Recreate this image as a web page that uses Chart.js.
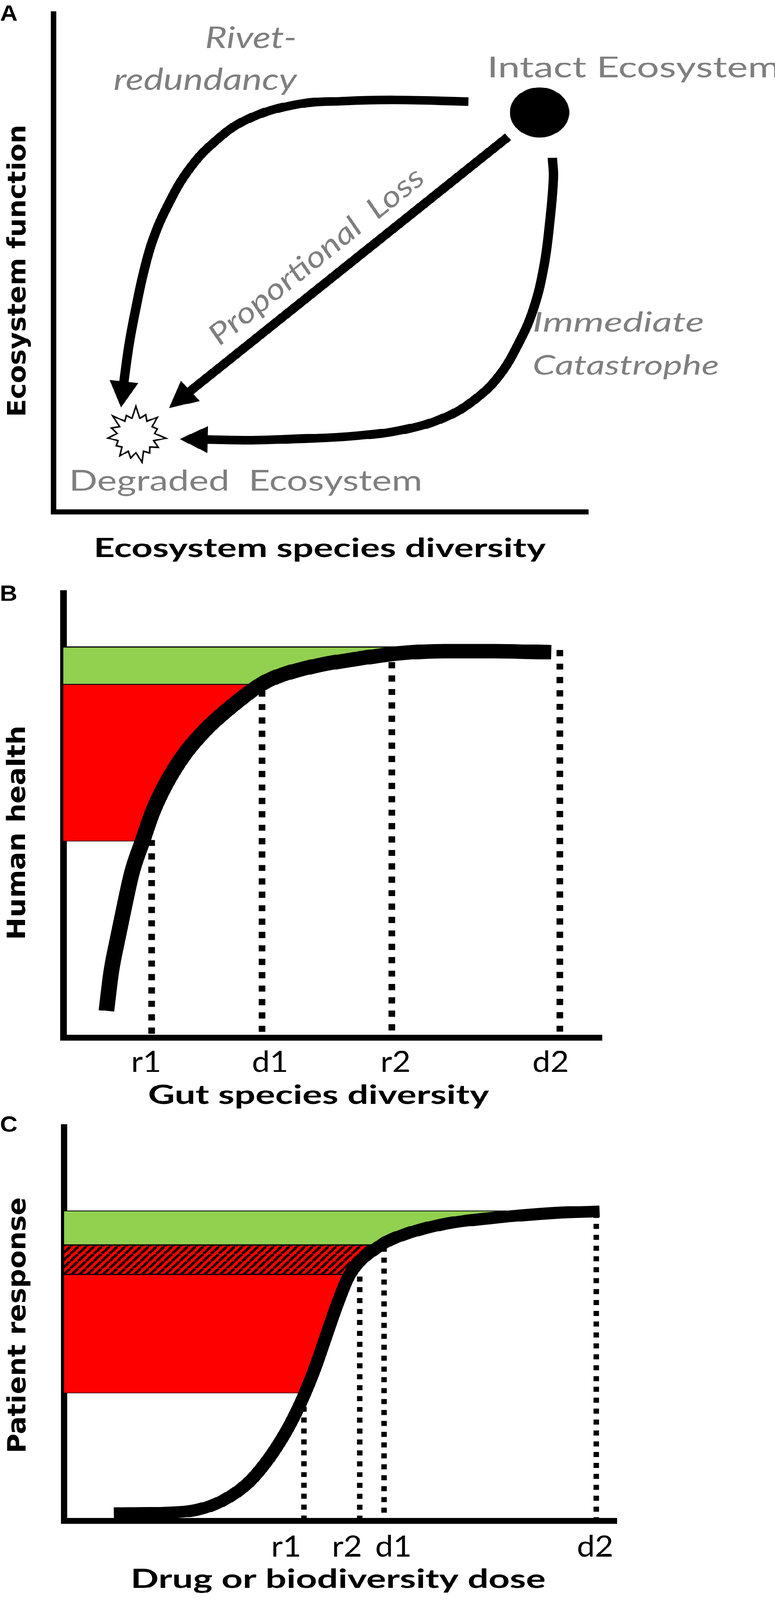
<!DOCTYPE html>
<html lang="en">
<head>
  <meta charset="UTF-8" />
  <title>Diversity loss, gut diversity and dose response</title>
  <script src="https://cdn.jsdelivr.net/npm/chart.js@4.4.1/dist/chart.umd.min.js"></script>
  <style>
    html, body { margin: 0; padding: 0; background: #ffffff; overflow: hidden; }
    #page { width: 1983px; height: 4415px; position: relative; transform-origin: 0 0; }
    canvas { position: absolute; left: 0; }
    #panelA { top: 0; }
    #panelB { top: 1540px; }
    #panelC { top: 3040px; }
  </style>
</head>
<body>
<div id="page">
  <canvas id="panelA" width="1983" height="1600"></canvas>
  <canvas id="panelB" width="1983" height="1560"></canvas>
  <canvas id="panelC" width="1983" height="1375"></canvas>
</div>

  <script>
    // ---------- Panel A : three routes from intact to degraded (diversity %, function %)
    const rivetX = [77.6, 64.0, 54.7, 45.5, 36.2, 29.8, 25.1, 21.4, 18.6, 16.8, 15.4, 14.2, 13.3, 12.9];
    const rivetY = [82.4, 82.7, 82.5, 81.8, 78.8, 74.0, 68.4, 61.6, 54.7, 47.9, 40.9, 34.1, 27.3, 23.6];
    const propX = [85.0, 23.6];
    const propY = [75.3, 22.6];
    const catX = [93.3, 93.5, 92.8, 91.7, 89.8, 87.1, 83.3, 78.7, 73.2, 65.8, 56.6, 45.5, 36.2, 26.2];
    const catY = [71.1, 67.1, 58.1, 49.2, 40.9, 34.1, 27.3, 22.5, 19.0, 16.6, 15.3, 14.7, 14.4, 14.6];
    const intactPt = [90.9, 80.2];
    const degradedPt = [15.4, 15.4];

    // ---------- Panel B : human health vs gut species diversity
    const gutX = [8.0, 8.9, 10.1, 11.4, 12.8, 14.7, 16.6, 19.1, 22.4, 26.5, 31.2, 36.7, 39.6, 47.0, 54.4, 61.7, 70.8, 80.0, 90.6];
    const gutY = [6.0, 14.8, 22.3, 29.9, 37.4, 44.2, 50.8, 57.2, 63.6, 69.4, 74.5, 79.5, 81.2, 83.7, 85.2, 86.4, 87.0, 87.0, 86.7];
    const gutLevels = [87.9, 79.5, 44.2];   // green top, health at d1, health at r1
    const gutGreenEnd = 61.7;
    const gutDropX = [16.4, 36.9, 61.0, 92.2];
    const gutDropTop = [44.5, 78.1, 84.5, 87.2];
    const gutTickX = [15.4, 38.4, 61.7, 90.5];
    const gutTickLabels = ['r1', 'd1', 'r2', 'd2'];

    // ---------- Panel C : patient response vs drug or biodiversity dose
    const doseX = [9.0, 17.9, 24.2, 28.6, 33.1, 36.7, 39.8, 41.9, 43.6, 45.4, 47.5, 49.4, 51.7, 57.4, 60.1, 68.1, 78.1, 88.9, 96.9];
    const doseY = [1.9, 2.1, 2.9, 5.1, 9.4, 15.2, 21.8, 27.3, 32.5, 38.8, 47.3, 54.9, 62.6, 70.1, 72.0, 75.2, 77.0, 78.2, 78.6];
    const doseLevels = [78.7, 70.1, 62.6, 32.5];   // green top, d1, r2, r1
    const doseGreenEnd = 88.9;
    const doseDropX = [43.4, 53.5, 57.9, 96.3];
    const doseDropTop = [29.0, 62.1, 69.6, 78.2];
    const doseTickX = [40.2, 51.2, 59.6, 96.1];
    const doseTickLabels = ['r1', 'r2', 'd1', 'd2'];

    const GREY = '#7f7f7f';
    const GREEN = '#92d050';
    const RED = '#ff0000';

    const pts = (xs, ys) => xs.map((x, i) => ({x, y: ys[i]}));

    // little bitmaps used as point styles
    function headImg(w, h) {
      const c = document.createElement('canvas');
      c.width = w; c.height = h;
      const g = c.getContext('2d');
      g.fillStyle = '#000';
      g.beginPath();
      g.moveTo(w / 2, 0);
      g.lineTo(w, h);
      g.lineTo(0, h);
      g.closePath();
      g.fill();
      return c;
    }
    function ellipseImg(w, h) {
      const c = document.createElement('canvas');
      c.width = w; c.height = h;
      const g = c.getContext('2d');
      g.fillStyle = '#000';
      g.beginPath();
      g.ellipse(w / 2, h / 2, w / 2, h / 2, 0, 0, Math.PI * 2);
      g.fill();
      return c;
    }
    function starImg(radii, inner) {
      const size = 2 * Math.max(...radii) + 12;
      const c = document.createElement('canvas');
      c.width = c.height = size;
      const g = c.getContext('2d');
      const m = size / 2, n = radii.length;
      g.beginPath();
      for (let i = 0; i < n; i++) {
        const a1 = i / n * Math.PI * 2 - Math.PI / 2;
        const a2 = (i + 0.5) / n * Math.PI * 2 - Math.PI / 2;
        g.lineTo(m + radii[i] * Math.cos(a1), m + radii[i] * Math.sin(a1));
        g.lineTo(m + inner * Math.cos(a2), m + inner * Math.sin(a2));
      }
      g.closePath();
      g.fillStyle = '#fff';
      g.fill();
      g.lineWidth = 4;
      g.strokeStyle = '#000';
      g.stroke();
      return c;
    }
    function hatchPattern(ctx) {
      const s = 20;
      const c = document.createElement('canvas');
      c.width = c.height = s;
      const g = c.getContext('2d');
      g.fillStyle = RED;
      g.fillRect(0, 0, s, s);
      g.strokeStyle = '#1a0000';
      g.lineWidth = 7;
      g.beginPath();
      for (const k of [-1, 0, 1]) { g.moveTo(k * s, s); g.lineTo(k * s + s, 0); }
      g.stroke();
      return ctx.createPattern(c, 'repeat');
    }

    const HEAD = headImg(74, 72);
    const DOT = ellipseImg(152, 138);
    const STAR = starImg([80, 62, 74, 58, 78, 66, 60, 76, 64, 70, 58, 72, 66, 80, 60], 48);

    function headAngle(c) {
      const d = c.dataset.data, i = d.length - 1;
      const sx = c.chart.scales.x, sy = c.chart.scales.y;
      const dx = sx.getPixelForValue(d[i].x) - sx.getPixelForValue(d[i - 1].x);
      const dy = sy.getPixelForValue(d[i].y) - sy.getPixelForValue(d[i - 1].y);
      return Math.atan2(dx, -dy) * 180 / Math.PI;
    }

    function arrow(xs, ys) {
      return {
        data: pts(xs, ys),
        borderColor: '#000', borderWidth: 24, tension: 0.4,
        pointRadius: c => c.dataIndex === xs.length - 1 ? 2 : 0,
        pointStyle: HEAD, pointRotation: headAngle, pointBorderWidth: 0,
        clip: false, order: 0
      };
    }
    function marker(p, img) {
      return {data: [{x: p[0], y: p[1]}], showLine: false, pointStyle: img, pointRadius: 2, pointBorderWidth: 0, clip: false, order: 1};
    }
    function curve(xs, ys, w) {
      return {data: pts(xs, ys), borderColor: '#000', borderWidth: w, cubicInterpolationMode: 'monotone', pointRadius: 0, clip: false, order: 0};
    }
    function band(poly, bg, line, lw) {
      return {data: poly, fill: 'shape', backgroundColor: bg, borderColor: line, borderWidth: lw, tension: 0, pointRadius: 0, clip: false, order: 2};
    }
    function drops(xs, tops, dash, w) {
      return xs.map((x, i) => ({
        data: [{x, y: tops[i]}, {x, y: 0.6}],
        borderColor: '#000', borderWidth: w, borderDash: dash, borderCapStyle: 'butt',
        pointRadius: 0, clip: false, order: 1
      }));
    }

    // text drawn in data coordinates, squeezed to the width
    function textLayer(items) {
      return {
        id: 'textLayer',
        afterDatasetsDraw(chart) {
          const {ctx} = chart;
          const sx = chart.scales.x, sy = chart.scales.y;
          for (const t of items) {
            ctx.save();
            ctx.font = t.font;
            ctx.fillStyle = t.color || '#000';
            ctx.textBaseline = t.baseline || 'alphabetic';
            ctx.textAlign = 'left';
            const w = ctx.measureText(t.text).width;
            const k = t.width ? t.width / w : 1;
            let ang = (t.angle || 0) * Math.PI / 180;
            if (t.along) {
              const [xs, ys] = t.along;
              const dx = sx.getPixelForValue(xs[0]) - sx.getPixelForValue(xs[1]);
              const dy = sy.getPixelForValue(ys[0]) - sy.getPixelForValue(ys[1]);
              ang = Math.atan2(dy, dx);
            }
            ctx.translate(sx.getPixelForValue(t.x), sy.getPixelForValue(t.y));
            ctx.rotate(ang);
            ctx.scale(k, 1);
            const off = t.align === 'right' ? -w : t.align === 'center' ? -w / 2 : 0;
            ctx.fillText(t.text, off, 0);
            ctx.restore();
          }
        }
      };
    }

    function axes(w) {
      const common = {
        type: 'linear', min: 0, max: 100,
        ticks: {display: false},
        grid: {display: false, drawTicks: false},
        border: {display: true, color: '#000', width: w}
      };
      return {
        x: {...common, position: 'bottom', afterFit: s => { s.height = 0; }},
        y: {...common, position: 'left', afterFit: s => { s.width = 0; }}
      };
    }

    function panel(id, pad, axisW, datasets, texts) {
      return new Chart(document.getElementById(id), {
        type: 'line',
        data: {datasets},
        options: {
          responsive: false,
          devicePixelRatio: 1,
          animation: false,
          events: [],
          layout: {padding: pad, autoPadding: false},
          plugins: {legend: {display: false}, tooltip: {enabled: false}},
          scales: axes(axisW)
        },
        plugins: [textLayer(texts)]
      });
    }

    const tickItems = (xs, labels, y) => xs.map((x, i) => ({text: labels[i], x, y, align: 'center', font: '82px Lato'}));

    // ---------- Panel A
    panel('panelA', {left: 137, right: 478, top: 38, bottom: 187}, 14, [
      arrow(rivetX, rivetY),
      arrow(propX, propY),
      arrow(catX, catY),
      marker(intactPt, DOT),
      marker(degradedPt, STAR)
    ], [
      {text: 'A', x: -10.0, y: 98.6, font: 'bold 62px "Liberation Sans"'},
      {text: 'Ecosystem function', x: -6.5, y: 48.4, angle: -90, align: 'center', baseline: 'middle', width: 807, font: 'bold 64px "DejaVu Sans"'},
      {text: 'Ecosystem species diversity', x: 49.8, y: -9.0, align: 'center', width: 1157, font: 'bold 72px Lato'},
      {text: 'Rivet-', x: 45.5, y: 93.1, align: 'right', width: 235, font: 'italic 84px Lato', color: GREY},
      {text: 'redundancy', x: 45.5, y: 84.7, align: 'right', width: 469, font: 'italic 84px Lato', color: GREY},
      {text: 'Intact Ecosystem', x: 81.1, y: 87.3, width: 750, font: '80px Lato', color: GREY},
      {text: 'Proportional  Loss', x: 49.2, y: 51.3, along: [propX, propY], align: 'center', baseline: 'middle', width: 700, font: 'italic 80px Lato', color: GREY},
      {text: 'Immediate', x: 89.6, y: 36.2, width: 439, font: 'italic 76px Lato', color: GREY},
      {text: 'Catastrophe', x: 89.6, y: 27.6, width: 477, font: 'italic 76px Lato', color: GREY},
      {text: 'Degraded  Ecosystem', x: 2.9, y: 4.3, width: 904, font: '80px Lato', color: GREY}
    ]);

    // ---------- Panel B
    const gutCurve = pts(gutX, gutY);
    const [gTop, gMid, gLow] = gutLevels;
    const gutGreen = [{x: 0, y: gTop}, {x: gutGreenEnd, y: gTop},
      ...gutCurve.filter(p => p.y >= gMid && p.x <= gutGreenEnd).reverse(), {x: 0, y: gMid}];
    const gutRed = [{x: 0, y: gMid},
      ...gutCurve.filter(p => p.y <= gMid && p.y >= gLow).reverse(), {x: 0, y: gLow}];

    panel('panelB', {left: 162, right: 443, top: 97, bottom: 237}, 17, [
      curve(gutX, gutY, 40),
      ...drops(gutDropX, gutDropTop, [17, 20], 17),
      band(gutGreen, GREEN, '#000', 3),
      band(gutRed, RED, '#5a0000', 2)
    ], [
      {text: 'B', x: -11.8, y: 98.3, font: 'bold 62px "Liberation Sans"'},
      {text: 'Human health', x: -8.3, y: 46.1, angle: -90, align: 'center', baseline: 'middle', width: 592, font: 'bold 64px "DejaVu Sans"'},
      {text: 'Gut species diversity', x: 47.4, y: -14.9, align: 'center', width: 873, font: 'bold 72px Lato'},
      ...tickItems(gutTickX, gutTickLabels, -7.75)
    ]);

    // ---------- Panel C
    const doseCurve = pts(doseX, doseY);
    const [cTop, cD1, cR2, cR1] = doseLevels;
    const doseGreen = [{x: 0, y: cTop}, {x: doseGreenEnd, y: cTop},
      ...doseCurve.filter(p => p.y >= cD1 && p.x <= doseGreenEnd).reverse(), {x: 0, y: cD1}];
    const doseHatch = [{x: 0, y: cD1},
      ...doseCurve.filter(p => p.y <= cD1 && p.y >= cR2).reverse(), {x: 0, y: cR2}];
    const doseRed = [{x: 0, y: cR2},
      ...doseCurve.filter(p => p.y <= cR2 && p.y >= cR1).reverse(), {x: 0, y: cR1}];

    const hatch = hatchPattern(document.getElementById('panelC').getContext('2d'));

    panel('panelC', {left: 164, right: 405, top: 70, bottom: 218}, 16, [
      curve(doseX, doseY, 33),
      ...drops(doseDropX, doseDropTop, [14, 16], 14),
      band(doseGreen, GREEN, '#000', 3),
      band(doseHatch, hatch, '#000', 3),
      band(doseRed, RED, '#5a0000', 2)
    ], [
      {text: 'C', x: -11.6, y: 98.8, font: 'bold 62px "Liberation Sans"'},
      {text: 'Patient response', x: -8.2, y: 49.7, angle: -90, align: 'center', baseline: 'middle', width: 706, font: 'bold 64px "DejaVu Sans"'},
      {text: 'Drug or biodiversity dose', x: 49.6, y: -17.0, align: 'center', width: 1062, font: 'bold 72px Lato'},
      ...tickItems(doseTickX, doseTickLabels, -9.0)
    ]);

    // the window shows less than 4415px in height, so squeeze the figure to fit it
    const fit = Math.min(1, window.innerHeight / 4415);
    if (fit < 1) document.getElementById('page').style.transform = `scale(1, ${fit})`;
  </script>
</body>
</html>
